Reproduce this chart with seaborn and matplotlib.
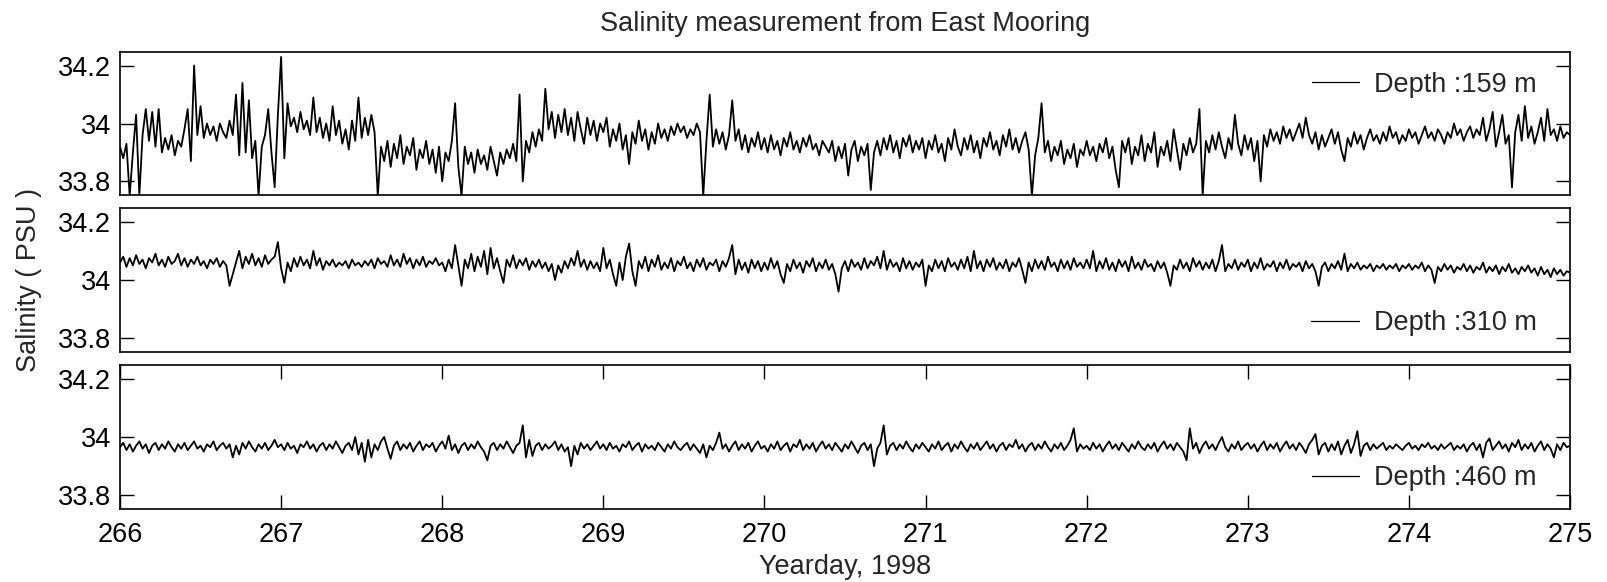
import numpy as np
import pandas as pd
import matplotlib
matplotlib.use("Agg")
import matplotlib.pyplot as plt
import seaborn as sns

# ---------------- data ----------------
# salinity given as deviation from 34 PSU in milli-PSU, one row per yearday,
# samples every 0.02 day (50 per day), last row = yearday 275.00
start_day = 266.0
step_day = 0.02
base_psu = 34.0
depths = ["Depth :159 m", "Depth :310 m", "Depth :460 m"]

dev_159 = [
    [-80, -120, -70, -250, -100, 30, -250, -40, 50, -60,
     40, -80, 50, -100, -50, -90, -40, -110, -60, -80,
     -20, 50, -130, 200, -40, 60, -50, 0, -40, -10,
     -60, 0, -30, -50, 10, -40, 100, -110, 140, -100,
     80, -120, -60, -250, -80, -40, 50, -100, -220, 30],
    [230, -120, 70, -10, 20, -30, 40, -20, 10, -40,
     90, -30, 20, -50, 0, -60, 60, -40, 10, -70,
     -20, -90, 10, -60, 90, -50, 20, -40, 30, -30,
     -250, -80, -130, -60, -150, -70, -120, -40, -140, -80,
     -110, -50, -160, -90, -120, -60, -140, -90, -170, -80],
    [-200, -100, -130, -60, 70, -150, -250, -80, -140, -100,
     -170, -90, -140, -110, -160, -80, -130, -180, -100, -140,
     -90, -120, -70, -130, 100, -200, -60, -100, -30, -80,
     -20, -60, 120, -20, 40, -50, 30, -30, 50, -40,
     20, -60, 40, -20, -70, 20, -40, 10, -60, 0],
    [-30, 20, -80, -20, -60, 0, -90, -40, -140, -30,
     -70, 10, -60, -20, -90, -30, -70, 0, -50, -20,
     -60, -10, -40, 0, -30, -10, -50, -20, -40, 0,
     -30, -250, -60, 100, -80, -20, -70, -30, -90, -40,
     80, -60, -20, -90, -40, -100, -50, -80, -30, -90],
    [-50, -100, -40, -90, -60, -110, -50, -80, -30, -90,
     -60, -100, -50, -80, -40, -90, -70, -110, -60, -80,
     -100, -60, -130, -80, -120, -70, -180, -90, -60, -130,
     -80, -110, -70, -230, -100, -60, -110, -50, -90, -40,
     -100, -60, -120, -50, -80, -40, -100, -60, -90, -50],
    [-120, -60, -90, -40, -100, -70, -130, -50, -90, -20,
     -80, -110, -50, -90, -40, -100, -60, -120, -50, -80,
     -30, -90, -60, -110, -40, -80, -20, -90, -50, -100,
     -60, -30, -90, -250, -110, -50, 70, -100, -60, -130,
     -80, -110, -60, -140, -90, -120, -70, -150, -90, -110],
    [-60, -110, -80, -130, -70, -100, -50, -120, -80, -160,
     -220, -60, -100, -50, -140, -80, -110, -40, -130, -70,
     -100, -30, -150, -80, -110, -60, -130, -20, -90, -160,
     -70, -110, -50, -100, -70, 50, -250, -60, -100, -40,
     -90, -30, -80, -120, -50, -90, 30, -70, -110, -40],
    [-90, -50, -130, -60, -200, -40, -80, -20, -60, -30,
     -70, -10, -50, -20, -60, -30, 0, -50, 20, -40,
     -70, -30, -90, -40, -80, -50, -20, -70, -30, -90,
     -130, -50, -80, -30, -70, -40, -90, -50, -20, -60,
     -40, -70, -30, -60, -10, -50, -30, -70, -40, -60],
    [-20, -50, -30, -70, -40, -10, -50, -30, -60, -20,
     -40, -70, -30, -50, 0, -40, -20, -60, -30, -10,
     -50, -20, -40, 20, -60, -20, 40, -80, -30, 30,
     -70, -40, -220, -30, 30, -60, 60, -50, -10, -70,
     -30, 20, -60, 50, -40, -20, -60, -10, -50, -30],
    [-40],
]

dev_310 = [
    [60, 80, 45, 75, 50, 85, 55, 70, 40, 75,
     60, 90, 50, 70, 45, 80, 55, 65, 90, 50,
     75, 45, 70, 55, 80, 50, 65, 40, 70, 55,
     75, 45, 65, 50, -20, 20, 60, 100, 40, 80,
     55, 90, 50, 75, 45, 85, 55, 70, 80, 130],
    [40, -10, 60, 30, 75, 45, 80, 50, 70, 40,
     100, 50, 75, 35, 65, 50, 70, 45, 60, 50,
     65, 40, 70, 50, 60, 45, 65, 50, 70, 40,
     75, 55, 65, 45, 85, 50, 70, 45, 90, 55,
     75, 40, 70, 50, 80, 45, 65, 55, 75, 50],
    [60, 30, 70, 40, 120, 50, -20, 70, 40, 90,
     30, 80, 45, 100, 20, 110, 40, 75, 30, -10,
     70, 45, 85, 40, 70, 50, 75, 35, 65, 45,
     70, 40, 60, 30, 55, 0, 50, 25, 65, 40,
     75, 50, 100, 45, 70, 35, 65, 40, 60, 30],
    [110, 40, 70, 20, -20, 60, 0, 80, 125, 30,
     -20, 65, 40, 80, 30, 70, 45, 85, 35, 60,
     40, 75, 30, 65, 50, 80, 40, 60, 30, 70,
     45, 75, 35, 60, 50, 70, 30, 65, 45, 75,
     120, 20, 70, 35, 60, 25, 70, 40, 65, 30],
    [60, 35, 75, 40, 65, 20, -10, 55, 30, 70,
     40, 60, 25, 65, 45, 75, 30, 60, 40, 70,
     35, 55, 20, -40, 40, 65, 30, 70, 45, 60,
     35, 75, 40, 65, 50, 80, 40, 100, 35, 70,
     45, 60, 30, 75, 40, 65, 35, 60, 45, 70],
    [-20, 50, 30, 70, 40, 65, 30, 75, 45, 60,
     35, 70, 40, 80, 30, 100, 40, 65, 30, 70,
     45, 75, 35, 60, 40, 70, 30, 60, 45, 75,
     35, -10, 60, 30, 70, 40, 65, 35, 80, 45,
     60, 30, 70, 40, 65, 35, 75, 45, 60, 40],
    [70, 40, 100, 30, 65, 40, 75, 35, 60, 30,
     70, 45, 65, 30, 80, 40, 60, 35, 70, 45,
     55, 30, 65, 40, 60, 25, -20, 50, 35, 70,
     40, 60, 30, 75, 45, 65, 35, 60, 40, 70,
     30, 65, 120, 30, 55, 40, 70, 35, 60, 45],
    [70, 30, 60, 40, 75, 35, 55, 45, 65, 30,
     60, 40, 70, 35, 55, 45, 60, 30, 65, 40,
     55, 30, -20, 45, 60, 30, 55, 40, 65, 35,
     90, 30, 55, 40, 60, 35, 50, 40, 55, 30,
     50, 40, 55, 35, 50, 40, 55, 30, 50, 40],
    [55, 35, 50, 40, 60, 30, 50, 35, -10, 45,
     30, 55, 35, 50, 25, 45, 35, 55, 30, 50,
     25, 45, 35, 60, 25, 45, 30, 50, 20, 45,
     30, 55, 25, 40, 20, 45, 30, 50, 25, 40,
     15, 45, 20, 35, 10, 40, 20, 35, 15, 30],
    [25],
]

dev_460 = [
    [-35, -20, -45, -25, -50, -30, -15, -40, -25, -55,
     -30, -20, -45, -25, -40, -15, -35, -50, -25, -40,
     -20, -45, -30, -15, -40, -30, -50, -25, -35, -15,
     -45, -30, -20, -40, -25, -70, -30, -60, -20, -40,
     -15, -35, -50, -25, -40, -20, -45, -30, -10, -35],
    [-25, -45, -20, -40, -30, -55, -25, -35, -15, -40,
     -25, -50, -30, -20, -45, -25, -40, -15, -35, -55,
     -30, -20, -45, 0, -60, -20, -85, -10, -70, -25,
     -45, -15, 0, -40, -75, -30, -15, -45, -25, -40,
     -20, -50, -30, -15, -45, -25, -35, -20, -50, -30],
    [-15, -40, 5, -45, -25, -55, -30, -20, -45, -25,
     -40, -15, -35, -50, -80, -30, -20, -45, -25, -40,
     -15, -35, -55, -30, -20, 40, -70, -10, -65, -30,
     -20, -45, -25, -40, -30, -15, -45, -25, -50, -35,
     -100, -30, -60, -20, -40, -25, -45, -30, -15, -40],
    [-25, -45, -20, -40, -30, -50, -25, -35, -15, -45,
     -30, -20, -50, -25, -40, -30, -45, -20, -35, -50,
     -25, -40, -15, -35, -45, -30, -20, -45, -25, -40,
     -55, -25, -70, -30, -45, -20, 15, -40, -25, -50,
     -30, -15, -45, -25, -40, -20, -50, -30, -15, -40],
    [-30, -50, -25, -40, -15, -45, -30, -20, -50, -25,
     -35, -10, -45, -25, -40, -20, -50, -30, -15, -40,
     -25, -45, -20, -35, -50, -25, -40, -15, -35, -55,
     -30, -20, -45, -25, -100, -40, -20, 40, -60, -30,
     -20, -45, -25, -40, -15, -35, -50, -25, -40, -20],
    [-35, -50, -25, -40, -15, -45, -30, -20, -50, -25,
     -40, -15, -35, -50, -25, -40, -20, -45, -30, -15,
     -40, -25, -50, -30, -20, -45, -25, -35, -10, -40,
     -25, -50, -30, -20, -45, -25, -40, -15, -35, -50,
     -25, -40, -20, -45, -30, -10, 30, -50, -25, -40],
    [-30, -45, -20, -40, -25, -50, -30, -15, -40, -25,
     -45, -20, -35, -50, -25, -40, -15, -35, -45, -25,
     -40, -20, -50, -30, -15, -40, -25, -45, -20, -35,
     -50, -80, 30, -40, -20, -55, -30, -15, -40, -25,
     -45, -20, 0, -35, -50, -25, -40, -15, -45, -30],
    [-20, -40, -25, -50, -30, -15, -45, -25, -40, -20,
     -50, -30, -15, -40, -25, -45, -20, -35, -55, -25,
     -10, 10, -60, -30, -20, -50, -25, -45, -15, -60,
     -30, -10, -55, -25, 20, -65, -30, -20, -45, -25,
     -40, -30, -20, -45, -30, -40, -25, -35, -45, -30],
    [-20, -40, -30, -45, -25, -35, -20, -40, -30, -45,
     -25, -40, -30, -20, -45, -30, -40, -25, -50, -30,
     -20, -45, -25, -70, -20, -5, -45, -30, -15, -40,
     -25, -50, -20, -35, -10, -45, -25, -40, -20, -50,
     -30, -15, -45, -25, -40, -70, -25, -45, -20, -35],
    [-30],
]

x_ticks = [266, 267, 268, 269, 270, 271, 272, 273, 274, 275]
y_ticks = [33.8, 34.0, 34.2]
y_ticklabels = ["33.8", "34", "34.2"]
title = "Salinity measurement from East Mooring"
xlabel = "Yearday, 1998"
ylabel = "Salinity ( PSU )"


def to_frame(rows, name):
    for k, r in enumerate(rows[:-1]):
        if len(r) != 50:
            raise ValueError(f"{name}: row {k} has {len(r)} values")
    flat = [v for r in rows for v in r]
    n = len(flat)
    return pd.DataFrame({"day": start_day + step_day * np.arange(n),
                         "sal": base_psu + np.asarray(flat, dtype=float) / 1000.0})


# ---------------- styling ----------------
sns.set_style("white")
plt.rcParams["font.family"] = ["Liberation Sans", "DejaVu Sans"]
FS = 19.5

W, H = 1607, 582
fig = plt.figure(figsize=(W / 100, H / 100), dpi=100)

left_px, right_px = 120, 1570
panels_px = [(52, 195), (208, 352), (365, 509)]
legend_y = [0.77, 0.20, 0.215]
series = [dev_159, dev_310, dev_460]

axes = []
for i, ((t, b), rows, lab) in enumerate(zip(panels_px, series, depths)):
    ax = fig.add_axes([left_px / W, 1 - b / H, (right_px - left_px) / W, (b - t) / H])
    df = to_frame(rows, lab)
    sns.lineplot(data=df, x="day", y="sal", ax=ax, color="black", linewidth=1.3,
                 label=lab, estimator=None, sort=False)
    ax.set_xlim(266, 275)
    ax.set_ylim(33.753, 34.247)
    ax.set_yticks(y_ticks)
    ax.set_yticklabels(y_ticklabels)
    ax.set_xlabel("")
    ax.set_ylabel("")
    for s in ax.spines.values():
        s.set_linewidth(1.2)
        s.set_color("black")
    ax.tick_params(axis="y", direction="in", length=10, width=1.0, left=True, right=True,
                   labelsize=FS, pad=6.5, colors="black")
    if i < 2:
        ax.set_xticks([])
    else:
        ax.set_xticks(x_ticks)
        ax.set_xticklabels([str(v) for v in x_ticks])
        ax.tick_params(axis="x", direction="in", length=10, width=1.0, top=True, bottom=True,
                       labelsize=FS, pad=9, colors="black")
    leg = ax.legend(loc="center right", bbox_to_anchor=(0.977, legend_y[i]), frameon=False,
                    fontsize=FS, handlelength=1.75, handletextpad=0.55, borderpad=0,
                    borderaxespad=0)
    for h in leg.get_lines():
        h.set_linewidth(0.9)
    axes.append(ax)

axes[0].set_title(title, fontsize=FS, pad=15)
axes[2].set_xlabel(xlabel, fontsize=FS, labelpad=5)
fig.text(29 / W, 1 - 280 / H, ylabel, rotation=90, ha="center", va="center", fontsize=FS)

fig.savefig("out.png", dpi=100, facecolor="white")
